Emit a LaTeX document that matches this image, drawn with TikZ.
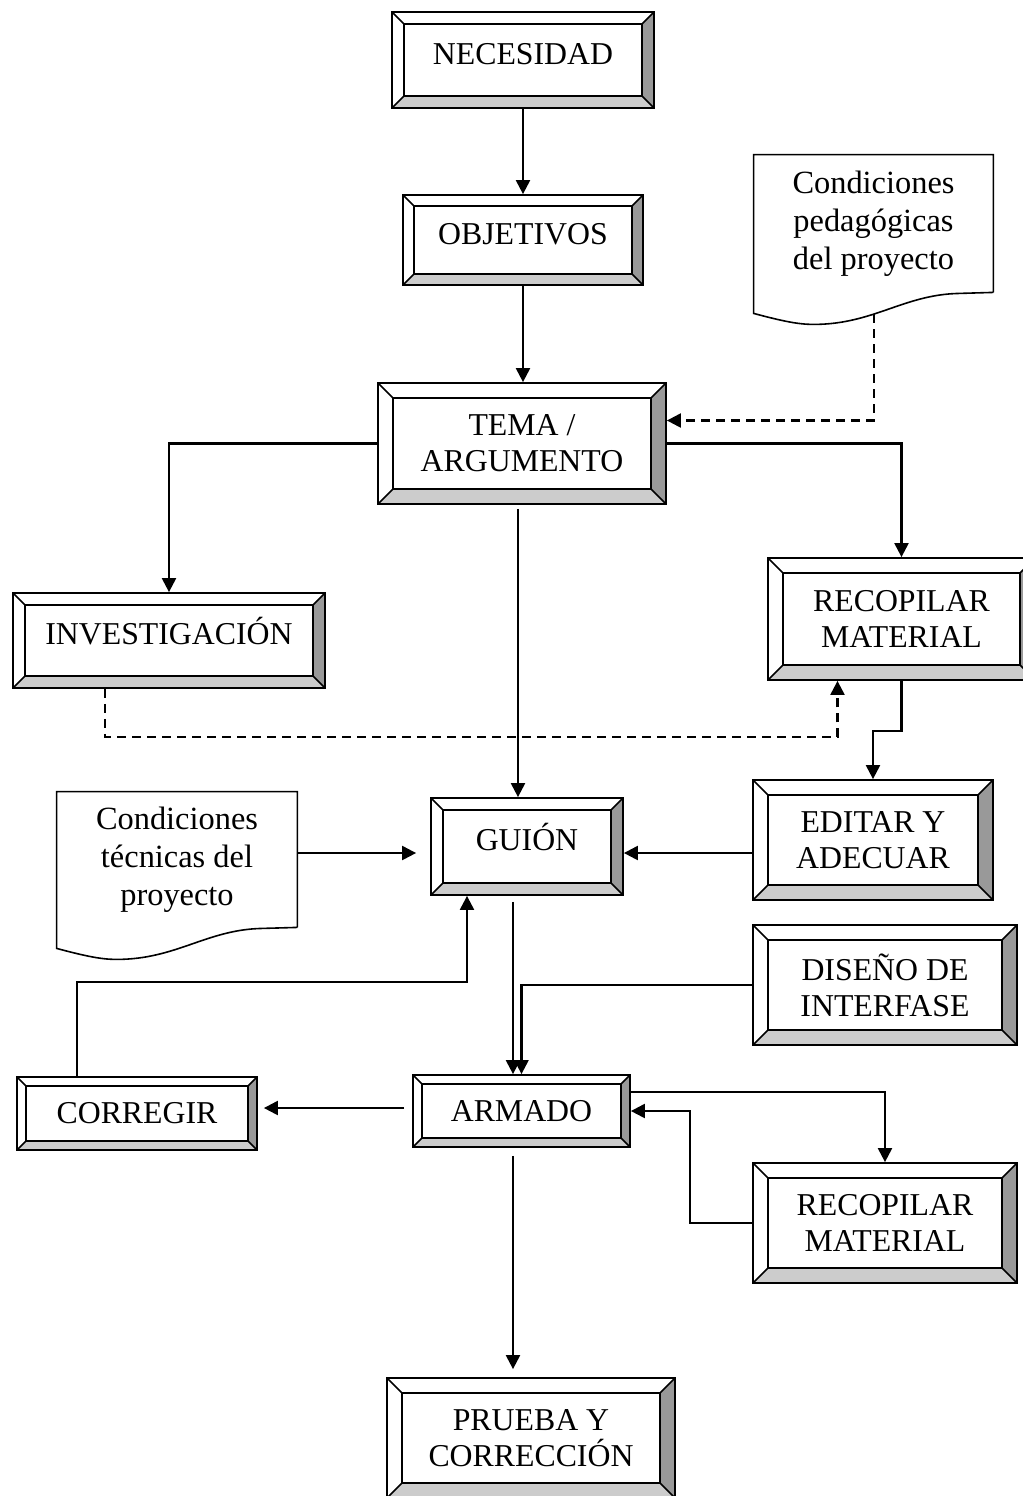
\documentclass[tikz,border=0pt]{standalone}
\usepackage{fontspec}
\setmainfont{Liberation Serif}
\usetikzlibrary{arrows.meta,calc}
\definecolor{bevdark}{gray}{0.6}
\definecolor{bevlight}{gray}{0.8}
% bevel of a box: 1/8 of its smaller side
\newcommand\bevelparts{%
  \coordinate (bA) at (path picture bounding box.south west);
  \coordinate (bB) at (path picture bounding box.north east);
  \pgfpointdiff{\pgfpointanchor{bA}{center}}{\pgfpointanchor{bB}{center}}%
  \pgfgetlastxy{\bw}{\bh}%
  \pgfmathsetlengthmacro\bv{0.125*min(\bw,\bh)}%
  \fill[bevdark] (bB) -- ($(bB)+(-\bv,-\bv)$) -- ($(bA-|bB)+(-\bv,\bv)$) -- (bA-|bB) -- cycle;
  \fill[bevlight] (bA) -- (bA-|bB) -- ($(bA-|bB)+(-\bv,\bv)$) -- ($(bA)+(\bv,\bv)$) -- cycle;
  \draw[line width=0.8pt] ($(bA)+(\bv,\bv)$) rectangle ($(bB)+(-\bv,-\bv)$);
  \draw[line width=0.8pt] (bA) -- ++(\bv,\bv) (bB) -- ++(-\bv,-\bv)
    (bA-|bB) -- ++(-\bv,\bv) (bA|-bB) -- ++(\bv,-\bv);
}
\tikzset{
  bevelbox/.style={draw, line width=0.9pt, fill=white, align=center, inner sep=0pt,
    font=\fontsize{15.9}{18}\selectfont, path picture={\bevelparts}},
  raised/.style={text height=9pt, text depth=4.6pt},
  docbox/.style={align=center, inner sep=0pt, font=\fontsize{16.2}{19}\selectfont},
  arr/.style={line width=1.1pt, -{Triangle[length=7pt,width=7pt]}},
  dashlink/.style={line width=1.1pt, dash pattern=on 4.5pt off 3pt, -{Triangle[length=7pt,width=7pt]}},
}

\begin{document}
\begin{tikzpicture}[x=0.5pt,y=-0.5pt]
  \clip (0,0) rectangle (1023,1496);

  \node[bevelbox,raised,minimum width=131pt,minimum height=48pt] (nec) at (523,60) {NECESIDAD};
  \node[bevelbox,raised,minimum width=120pt,minimum height=45pt] (obj) at (523,240) {OBJETIVOS};
  \node[bevelbox,minimum width=144pt,minimum height=60.5pt] (tema) at (522,443.5) {TEMA /\\ARGUMENTO};
  \node[bevelbox,raised,minimum width=156pt,minimum height=47.5pt] (inv) at (169,640.5) {INVESTIGACIÓN};
  \node[bevelbox,minimum width=133.5pt,minimum height=61pt] (rec1) at (901.5,619) {RECOPILAR\\MATERIAL};
  \node[bevelbox,raised,minimum width=96pt,minimum height=48.5pt] (gui) at (527,846.5) {GUIÓN};
  \node[bevelbox,minimum width=120pt,minimum height=60pt] (edi) at (873,840) {EDITAR Y\\ADECUAR};
  \node[bevelbox,minimum width=132pt,minimum height=60pt] (dis) at (885,985) {DISEÑO DE\\INTERFASE};
  \node[bevelbox,minimum width=108.5pt,minimum height=36pt] (arm) at (521.5,1111) {ARMADO};
  \node[bevelbox,minimum width=120pt,minimum height=36.5pt] (cor) at (137,1113.5) {CORREGIR};
  \node[bevelbox,minimum width=132pt,minimum height=60pt] (rec2) at (885,1223) {RECOPILAR\\MATERIAL};
  \node[bevelbox,minimum width=144pt,minimum height=60pt] (pru) at (531,1438) {PRUEBA Y\\CORRECCIÓN};

  % documents
  \node[docbox,minimum width=119.5pt,minimum height=68.5pt] (ped) at (873.5,223.5) {Condiciones\\pedagógicas\\del proyecto};
  \node[docbox,minimum width=120pt,minimum height=67.5pt] (tec) at (177,859.5) {Condiciones\\técnicas del\\proyecto};
  \foreach \d in {ped,tec}{
    \draw[line width=0.8pt] (\d.south east) -- (\d.north east) -- (\d.north west)
      -- ($(\d.south west)+(0,21)$)
      .. controls ($(\d.south west)+(30,29)$) and ($(\d.south west)+(45,32)$) .. ($(\d.south west)+(60,32)$)
      .. controls ($(\d.south west)+(120,32)$) and ($(\d.south west)+(150,2)$) .. ($(\d.south west)+(206,1)$)
      -- (\d.south east);
    \coordinate (\d-tail) at ($(\d.south west)+(120,22)$);
  }

  \draw[arr] (nec) -- (obj);
  \draw[arr] (obj.south) -- (obj.south |- tema.north);
  \draw[dashlink] (ped-tail) |- ([yshift=11.5pt]tema.east);
  \draw[arr] (tema.west) -| (inv.north);
  \draw[arr] (tema.east) -| (rec1.north);
  \draw[arr,shorten <=2pt] ([xshift=-2pt]tema.south) -- ([xshift=-2pt]tema.south |- gui.north);
  \draw[dashlink] ([xshift=-32pt]inv.south) -- ++(0,48) -| ([xshift=-32pt]rec1.south);
  \draw[arr] (rec1.south) -- ++(0,50) -| (edi.north);
  \draw[arr] ([yshift=-6.5pt]edi.west) -- ([yshift=-6.5pt]edi.west -| gui.east);
  \draw[arr,shorten >=7pt] ([yshift=3.25pt]tec.east) -- ([yshift=3.25pt]tec.east -| gui.west);
  \draw[arr,shorten <=3pt] ([xshift=-7pt]gui.south) -- ([xshift=-7pt]gui.south |- arm.north);
  \draw[arr] (dis.west) -| (arm.north);
  \draw[arr] ([xshift=-30pt]cor.north) -- ++(0,-94) -| ([xshift=-30pt]gui.south);
  \draw[arr,shorten <=4pt,shorten >=3pt] ([yshift=1.5pt]arm.west) -- ([yshift=1.5pt]arm.west -| cor.east);
  \draw[arr] ([yshift=9.5pt]arm.east) -| (rec2.north);
  \draw[arr] (rec2.west) -- ++(-62,0) |- (arm.east);
  \draw[arr,shorten <=4pt,shorten >=4pt] ([xshift=-4.25pt]arm.south) -- ([xshift=-4.25pt]arm.south |- pru.north);
\end{tikzpicture}
\end{document}
